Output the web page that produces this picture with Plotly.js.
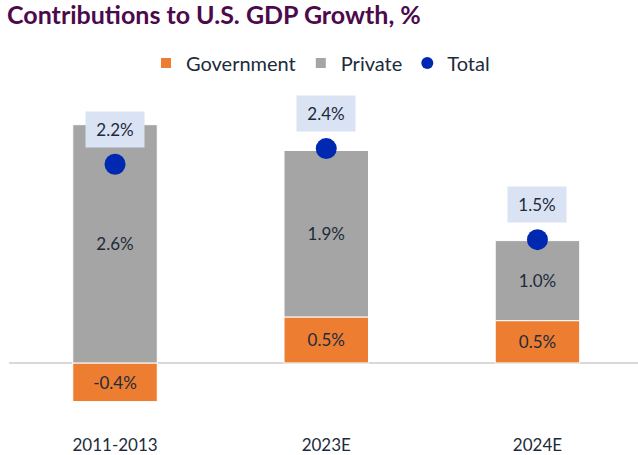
<!DOCTYPE html>
<html>
<head>
<meta charset="utf-8">
<script src="https://cdn.plot.ly/plotly-3.0.1.min.js"></script>
<style>
  html, body { margin: 0; padding: 0; background: #fff; }
  #chart { width: 638px; height: 455px; }
</style>
</head>
<body>
<div id="chart"></div>
<script>
// ---- Data ----
const categories = ['2011-2013', '2023E', '2024E'];
const governmentValues = [-0.42, 0.50, 0.46];
const privateValues = [2.59, 1.81, 0.87];
const totalValues = [2.16, 2.33, 1.34];
const governmentLabels = ['-0.4%', '0.5%', '0.5%'];
const privateLabels = ['2.6%', '1.9%', '1.0%'];
const totalLabels = ['2.2%', '2.4%', '1.5%'];

const FONT = 'Lato, "Liberation Sans", Arial, sans-serif';
const TEXT_COLOR = '#1d2b3a';

const traces = [
  {
    type: 'bar', name: 'Government', x: categories, y: governmentValues,
    marker: { color: '#ED7D31', line: { color: '#ffffff', width: 1 } },
    text: governmentLabels, texttemplate: '%{text}', textposition: 'inside',
    insidetextanchor: 'middle', textangle: 0, constraintext: 'none',
    insidetextfont: { family: FONT, size: 17, color: TEXT_COLOR },
    hoverinfo: 'skip'
  },
  {
    type: 'bar', name: 'Private', x: categories, y: privateValues,
    marker: { color: '#A5A5A5', line: { color: '#ffffff', width: 1 } },
    text: privateLabels, texttemplate: '%{text}', textposition: 'inside',
    insidetextanchor: 'middle', textangle: 0, constraintext: 'none',
    insidetextfont: { family: FONT, size: 17, color: TEXT_COLOR },
    hoverinfo: 'skip'
  },
  {
    type: 'scatter', mode: 'markers', name: 'Total', x: categories, y: totalValues,
    marker: { color: '#0028B0', size: 21 },
    hoverinfo: 'skip'
  }
];

const annotations = categories.map((c, i) => ({
  x: c, y: totalValues[i], xref: 'x', yref: 'y',
  text: totalLabels[i], showarrow: false, yshift: 35,
  bgcolor: '#DAE3F3', width: 58, height: 35, borderpad: 0,
  font: { family: FONT, size: 17, color: TEXT_COLOR }
}));

const layout = {
  width: 638, height: 455,
  margin: { l: 9, r: 0, t: 90, b: 35 },
  paper_bgcolor: '#ffffff', plot_bgcolor: '#ffffff',
  font: { family: FONT, color: TEXT_COLOR },
  title: {
    text: '<b>Contributions to U.S. GDP Growth, %</b>',
    font: { family: FONT, size: 25, color: '#4C0A4C' },
    x: 0.011, xanchor: 'left', xref: 'container',
    y: 0.985, yanchor: 'top', yref: 'container'
  },
  barmode: 'relative', bargap: 0.6,
  showlegend: true,
  legend: {
    orientation: 'h', x: 0.2178, xanchor: 'left', y: 1.082, yanchor: 'middle',
    font: { family: FONT, size: 20, color: TEXT_COLOR },
    itemsizing: 'constant', itemwidth: 30, traceorder: 'normal'
  },
  xaxis: {
    type: 'category', range: [-0.502, 2.476], showgrid: false, showline: false,
    ticks: '', ticklabelstandoff: 13,
    tickfont: { family: FONT, size: 17, color: TEXT_COLOR }
  },
  yaxis: {
    range: [-0.62, 2.967], showgrid: false, showticklabels: false, ticks: '',
    zeroline: true, zerolinecolor: '#D9D9D9', zerolinewidth: 2
  },
  annotations: annotations
};

Plotly.newPlot('chart', traces, layout, { staticPlot: true, displayModeBar: false });
</script>
</body>
</html>
